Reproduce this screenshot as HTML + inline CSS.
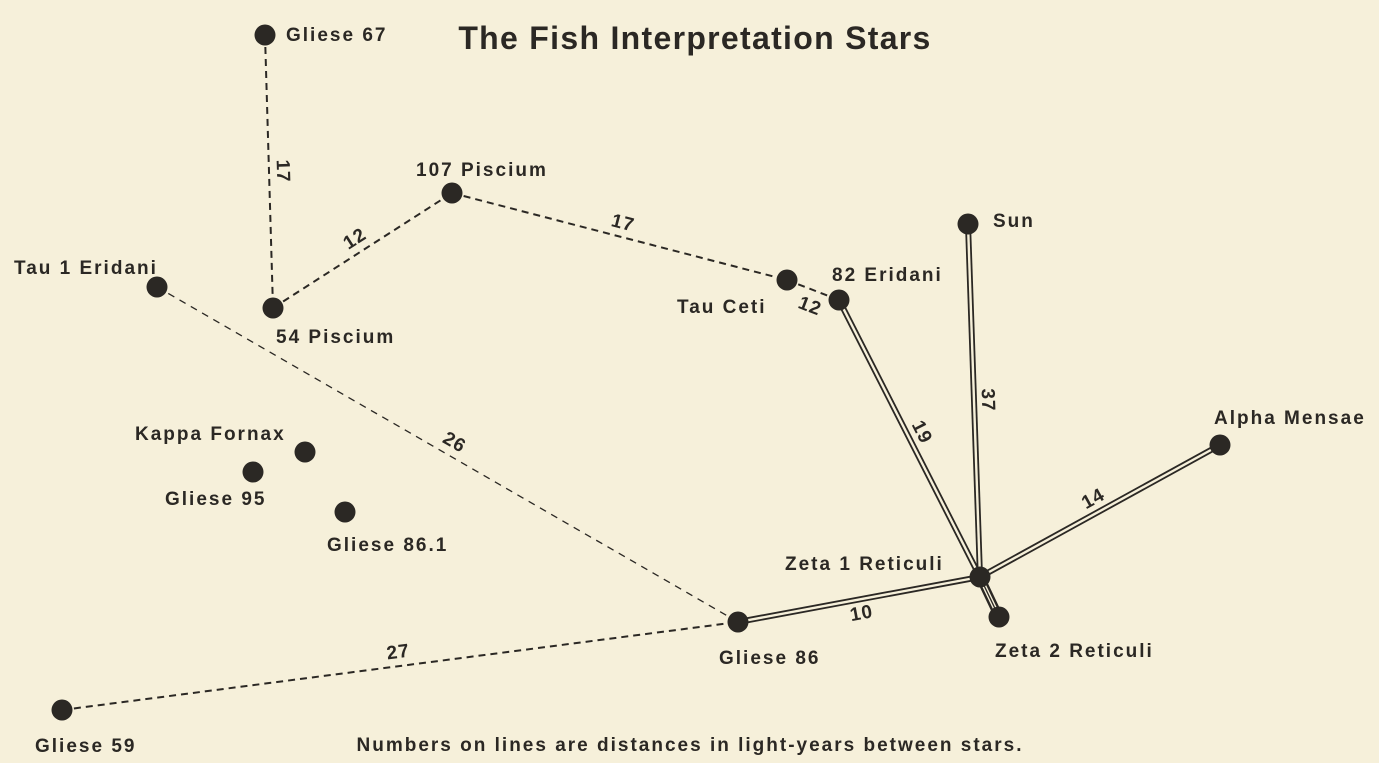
<!DOCTYPE html>
<html><head><meta charset="utf-8"><style>
html,body{margin:0;padding:0;background:#f6f0da;}
svg{display:block;}
text{font-family:"Liberation Sans",sans-serif;font-weight:bold;fill:#2b2824;}
</style></head><body>
<svg id="chart" width="1379" height="763" viewBox="0 0 1379 763">
<rect width="1379" height="763" fill="#f6f0da"/>
<text x="695" y="49" font-size="32" letter-spacing="1.3" text-anchor="middle">The Fish Interpretation Stars</text>
<text x="690" y="751" font-size="19" letter-spacing="2" text-anchor="middle">Numbers on lines are distances in light-years between stars.</text>
<g id="links"></g><g id="stars"></g>
</svg>
<script>
const starNames=["Gliese 67","107 Piscium","54 Piscium","Tau 1 Eridani","Tau Ceti","82 Eridani","Sun","Alpha Mensae","Zeta 1 Reticuli","Zeta 2 Reticuli","Gliese 86","Gliese 59","Kappa Fornax","Gliese 95","Gliese 86.1"];
const starX=[265,452,273,157,787,839,968,1220,980,999,738,62,305,253,345];
const starY=[35,193,308,287,280,300,224,445,577,617,622,710,452,472,512];
const labelX=[286,416,276,14,677,832,993,1214,785,995,719,35,135,165,327];
const labelY=[41,176,343,274,313,281,227,424,570,657,664,752,440,505,551];
const linkFrom=[0,2,1,4,3,11,5,6,7,10,8];
const linkTo=[2,1,4,5,10,10,8,8,8,8,9];
const linkDist=["17","12","17","12","26","27","19","37","14","10",""];
const linkStyle=["dash","dash","dash","dash","thin","dash","double","double","double","double","triple"];
const ns="http://www.w3.org/2000/svg";
const L=document.getElementById("links"),S=document.getElementById("stars");
function mk(t,a,p){const e=document.createElementNS(ns,t);for(const k in a)e.setAttribute(k,a[k]);p.appendChild(e);return e;}
for(let i=0;i<linkFrom.length;i++){
 const a=linkFrom[i],b=linkTo[i],x1=starX[a],y1=starY[a],x2=starX[b],y2=starY[b];
 const g=mk("g",{},L);
 
 
 const st=linkStyle[i];
 if(st==="dash")mk("line",{x1,y1,x2,y2,stroke:"#2b2824","stroke-width":2,"stroke-dasharray":"7 5"},g);
 else if(st==="thin")mk("line",{x1,y1,x2,y2,stroke:"#2b2824","stroke-width":1.3,"stroke-dasharray":"7 6"},g);
 else if(st==="double"){mk("line",{x1,y1,x2,y2,stroke:"#2b2824","stroke-width":6},g);mk("line",{x1,y1,x2,y2,stroke:"#f6f0da","stroke-width":2.4},g);}
 else {mk("line",{x1,y1,x2,y2,stroke:"#2b2824","stroke-width":9},g);mk("line",{x1:x1-1.5,y1,x2:x2-1.5,y2,stroke:"#f6f0da","stroke-width":1.4},g);mk("line",{x1:x1+1.5,y1,x2:x2+1.5,y2,stroke:"#f6f0da","stroke-width":1.4},g);}
 if(linkDist[i]){
  const mx=(x1+x2)/2,my=(y1+y2)/2;let ang=Math.atan2(y2-y1,x2-x1)*180/Math.PI;
  if(ang>90)ang-=180;if(ang<-90)ang+=180;
  const r=ang*Math.PI/180,off=(i===9)?14:-14;
  let tx=mx-Math.sin(r)*off,ty=my+Math.cos(r)*off;
  if(i===3){tx=810;ty=306;}
  const t=mk("text",{x:tx,y:ty+6,"font-size":19,"letter-spacing":1,"text-anchor":"middle",transform:`rotate(${ang} ${tx} ${ty})`},g);
  t.textContent=linkDist[i];
  
  
 }
}
for(let i=0;i<starNames.length;i++){
 const g=mk("g",{},S);
 
 
 mk("circle",{cx:starX[i],cy:starY[i],r:10.5,fill:"#2b2824"},g);
 const t=mk("text",{x:labelX[i],y:labelY[i],"font-size":19,"letter-spacing":2},g);
 t.textContent=starNames[i];
 
 
}
</script>
</body></html>
